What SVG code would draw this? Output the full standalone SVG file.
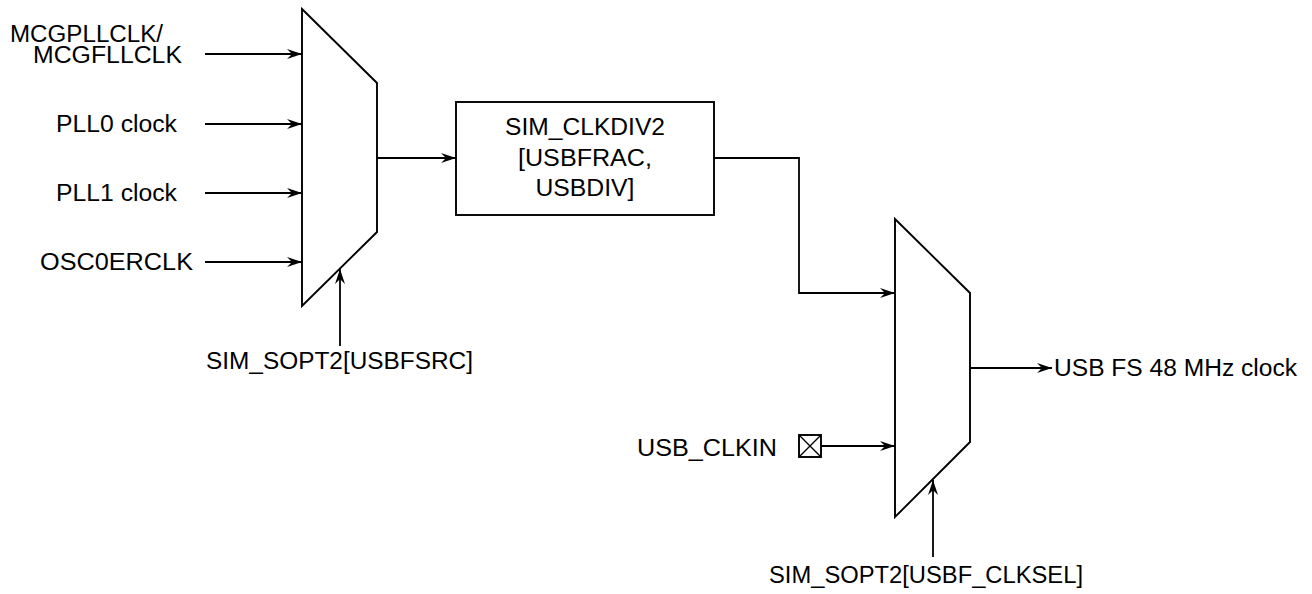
<svg xmlns="http://www.w3.org/2000/svg" width="1312" height="594" viewBox="0 0 1312 594">
<style>
.ln{fill:none;stroke:#000;stroke-width:1.8}
.sh{fill:#fff;stroke:#000;stroke-width:1.9;stroke-linejoin:miter}
.t{font-family:"Liberation Sans",Arial,Helvetica,sans-serif;font-size:23px;fill:#000}
.c{text-anchor:middle}
</style>
<defs>
<marker id="ah" markerUnits="userSpaceOnUse" markerWidth="20" markerHeight="12" refX="15" refY="5" orient="auto" overflow="visible">
<path d="M15,5 L0,0 L5,5 L0,10 Z" fill="#000"/>
</marker>
</defs>
<rect width="1312" height="594" fill="#fff"/>
<g id="connectors">
<line class="ln" x1="205" y1="54" x2="302" y2="54" marker-end="url(#ah)"/>
<line class="ln" x1="205" y1="124" x2="302" y2="124" marker-end="url(#ah)"/>
<line class="ln" x1="205" y1="193" x2="302" y2="193" marker-end="url(#ah)"/>
<line class="ln" x1="205" y1="262" x2="302" y2="262" marker-end="url(#ah)"/>
<line class="ln" x1="340" y1="346" x2="340" y2="269" marker-end="url(#ah)"/>
<line class="ln" x1="377" y1="158" x2="456" y2="158" marker-end="url(#ah)"/>
<polyline class="ln" points="714,158 799,158 799,293 895,293" marker-end="url(#ah)"/>
<line class="ln" x1="821" y1="446" x2="895" y2="446" marker-end="url(#ah)"/>
<line class="ln" x1="933" y1="557" x2="933" y2="480" marker-end="url(#ah)"/>
<line class="ln" x1="970" y1="368" x2="1052" y2="368" marker-end="url(#ah)"/>
</g>
<g id="mux1">
<polygon class="sh" points="302,9 377,83 377,232 302,306"/>
</g>
<g id="mux2">
<polygon class="sh" points="895,219 970,293 970,442 895,517"/>
</g>
<g id="clkdiv2">
<rect class="sh" x="456" y="102" width="258" height="113"/>
<text class="t c" x="585" y="135" textLength="160" lengthAdjust="spacingAndGlyphs">SIM_CLKDIV2</text>
<text class="t c" x="585" y="166" textLength="134" lengthAdjust="spacingAndGlyphs">[USBFRAC,</text>
<text class="t c" x="585" y="196" textLength="99" lengthAdjust="spacingAndGlyphs">USBDIV]</text>
</g>
<g id="in-mcg">
<text class="t" x="10" y="42" textLength="153" lengthAdjust="spacingAndGlyphs">MCGPLLCLK/</text>
<text class="t" x="33" y="63" textLength="149" lengthAdjust="spacingAndGlyphs">MCGFLLCLK</text>
</g>
<g id="in-pll0">
<text class="t" x="56" y="132" textLength="121" lengthAdjust="spacingAndGlyphs">PLL0 clock</text>
</g>
<g id="in-pll1">
<text class="t" x="56" y="201" textLength="121" lengthAdjust="spacingAndGlyphs">PLL1 clock</text>
</g>
<g id="in-osc">
<text class="t" x="40" y="270" textLength="153" lengthAdjust="spacingAndGlyphs">OSC0ERCLK</text>
</g>
<g id="sel1">
<text class="t" x="206" y="369" textLength="267" lengthAdjust="spacingAndGlyphs">SIM_SOPT2[USBFSRC]</text>
</g>
<g id="usb-clkin">
<text class="t" x="637" y="456" textLength="140" lengthAdjust="spacingAndGlyphs">USB_CLKIN</text>
<rect x="799" y="435" width="22" height="22" fill="#fff" stroke="#000" stroke-width="1.9"/>
<path d="M799,435 L821,457 M821,435 L799,457" stroke="#000" stroke-width="1.4" fill="none"/>
</g>
<g id="out">
<text class="t" x="1054" y="376" textLength="243" lengthAdjust="spacingAndGlyphs">USB FS 48 MHz clock</text>
</g>
<g id="sel2">
<text class="t" x="769" y="583" textLength="314" lengthAdjust="spacingAndGlyphs">SIM_SOPT2[USBF_CLKSEL]</text>
</g>
</svg>
